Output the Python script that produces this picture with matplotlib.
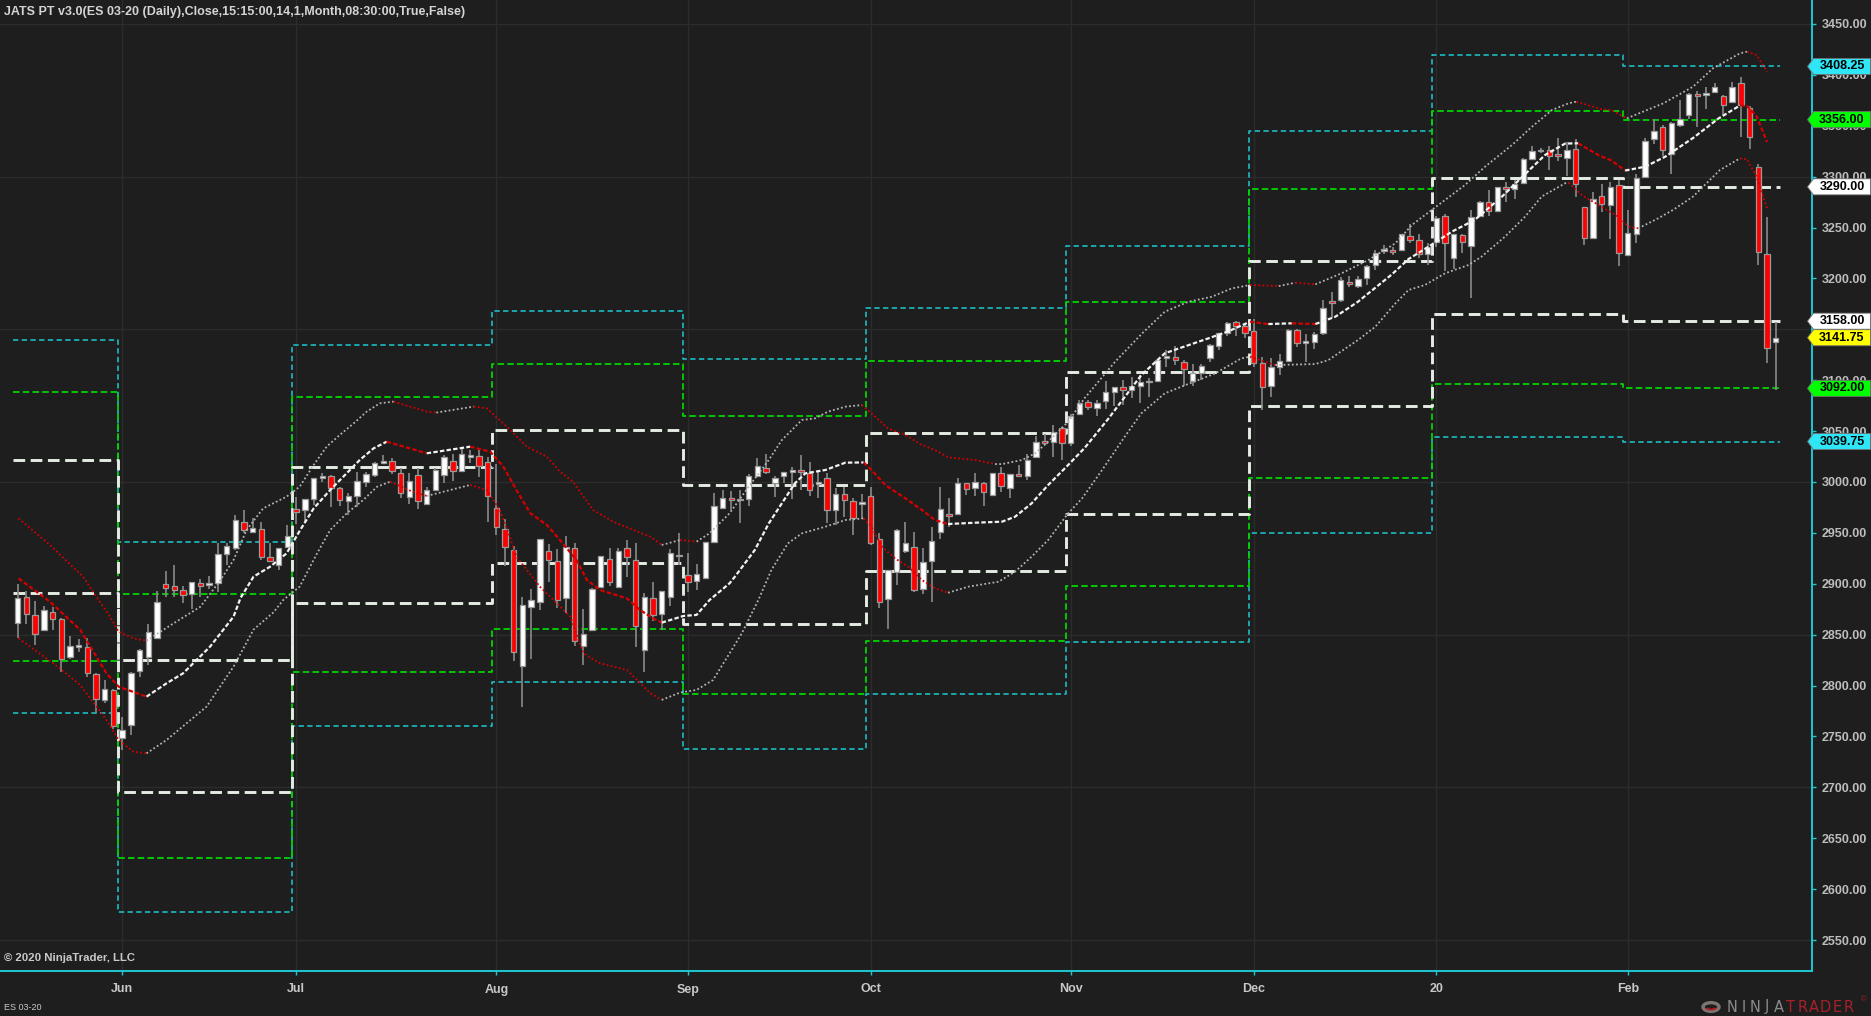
import matplotlib
matplotlib.use("Agg")
import matplotlib.pyplot as plt
from matplotlib.patches import Polygon, Circle, Wedge
from matplotlib.transforms import blended_transform_factory

W, H = 1871, 1016
BG = "#1e1e1e"
GRID = "#2c2c2c"
CYAN = "#1fc8d2"
TEXT = "#c8c8c8"
RED = "#ff0000"
BAND_RED = "#d40000"

plt.rcParams["font.family"] = ["Liberation Sans", "DejaVu Sans"]

# daily bars, ES 03-20 (mid May 2019 .. 26 Feb 2020)
opens = [2861, 2887, 2869, 2855, 2872, 2865, 2828, 2838, 2838, 2811, 2786, 2796,
         2748, 2761, 2814, 2828, 2847, 2900, 2898, 2894, 2890, 2901, 2899, 2901, 2929, 2935, 2961, 2951, 2954, 2926, 2918, 2936,
         2973, 2972, 2983, 3004, 3006, 2994, 2981, 2986, 3000, 3007, 3019, 3021, 3009, 2985, 3007, 2978, 2992, 3007, 3021, 3011, 3025, 3026, 3020,
         2974, 2954, 2933, 2819, 2877, 2882, 2932, 2922, 2886, 2935, 2839, 2855, 2897, 2924, 2897, 2935, 2923, 2835, 2886, 2870, 2887, 2927,
         2909, 2903, 2906, 2941, 2974, 2984, 2982, 2983, 3006, 3014, 2999, 3006, 3010, 3012, 3009, 2998, 3004, 2972, 2988, 2981, 2978,
         2986, 2944, 2885, 2912, 2932, 2936, 2895, 2922, 2951, 2969, 2969, 2999, 2994, 2999, 2987, 3009, 2994, 3008, 3006, 3025, 3040, 3039, 3053,
         3038, 3067, 3079, 3073, 3080, 3088, 3093, 3090, 3094, 3098, 3099, 3122, 3123, 3118, 3099, 3107, 3122, 3134, 3146, 3157, 3153,
         3148, 3117, 3094, 3113, 3119, 3149, 3137, 3138, 3146, 3177, 3179, 3196, 3193, 3200, 3213, 3227, 3228, 3228, 3242, 3238, 3224,
         3236, 3261, 3220, 3243, 3232, 3261, 3275, 3266, 3290, 3288, 3294, 3317, 3325, 3326, 3322, 3318, 3327, 3270, 3240, 3281, 3272, 3292,
         3223, 3244, 3300, 3337, 3349, 3322, 3351, 3361, 3381, 3380, 3383, 3379, 3373, 3392, 3367, 3309, 3224, 3138]
highs = [2900, 2893, 2883, 2878, 2877, 2866, 2849, 2846, 2847, 2812, 2805, 2797,
         2769, 2813, 2836, 2860, 2893, 2913, 2918, 2898, 2902, 2905, 2908, 2940, 2940, 2968, 2972, 2965, 2961, 2940, 2935, 2958,
         2985, 2983, 3004, 3009, 3007, 2995, 2989, 3010, 3010, 3020, 3027, 3024, 3014, 3009, 3014, 2995, 3014, 3027, 3028, 3032, 3031, 3032, 3025,
         3018, 2964, 2937, 2887, 2895, 2944, 2939, 2934, 2947, 2940, 2875, 2896, 2927, 2935, 2935, 2943, 2940, 2891, 2902, 2893, 2934, 2950,
         2930, 2919, 2941, 2989, 2992, 2991, 2992, 3008, 3024, 3028, 3006, 3010, 3015, 3027, 3020, 3010, 3009, 2994, 2995, 2984, 2988,
         2995, 2950, 2914, 2954, 2961, 2951, 2935, 2956, 2995, 2984, 3004, 2999, 3009, 3000, 3009, 3015, 3008, 3017, 3028, 3045, 3047, 3056, 3054,
         3067, 3081, 3081, 3081, 3099, 3093, 3100, 3103, 3105, 3102, 3121, 3130, 3134, 3120, 3116, 3116, 3136, 3146, 3157, 3158, 3155,
         3160, 3123, 3122, 3126, 3150, 3150, 3145, 3147, 3179, 3187, 3201, 3202, 3202, 3213, 3228, 3233, 3231, 3244, 3253, 3244, 3235,
         3261, 3263, 3244, 3244, 3267, 3276, 3287, 3290, 3295, 3297, 3318, 3330, 3328, 3330, 3338, 3334, 3337, 3270, 3285, 3293, 3295, 3297,
         3267, 3303, 3338, 3357, 3351, 3354, 3375, 3382, 3384, 3388, 3392, 3380, 3393, 3398, 3369, 3312, 3260, 3157]
lows = [2847, 2860, 2840, 2854, 2855, 2813, 2826, 2833, 2808, 2773, 2783, 2757,
        2737, 2751, 2808, 2820, 2846, 2887, 2887, 2881, 2875, 2887, 2895, 2892, 2918, 2933, 2950, 2951, 2923, 2921, 2914, 2935,
        2959, 2962, 2977, 3000, 2975, 2976, 2968, 2975, 2995, 3005, 3018, 3008, 2984, 2978, 2973, 2977, 2992, 2999, 3001, 3010, 3019, 3005, 2961,
        2948, 2917, 2824, 2779, 2826, 2874, 2902, 2876, 2871, 2839, 2820, 2854, 2896, 2898, 2896, 2907, 2838, 2813, 2863, 2855, 2878, 2918,
        2892, 2894, 2905, 2941, 2973, 2972, 2960, 2976, 3005, 3008, 2985, 2999, 2983, 2992, 2986, 2984, 2960, 2958, 2966, 2948, 2964,
        2938, 2876, 2856, 2899, 2930, 2892, 2890, 2882, 2944, 2956, 2968, 2987, 2986, 2976, 2986, 2990, 2984, 3006, 3002, 3024, 3036, 3025, 3022,
        3035, 3066, 3071, 3065, 3072, 3075, 3076, 3083, 3078, 3084, 3098, 3113, 3115, 3094, 3094, 3100, 3118, 3130, 3143, 3143, 3141,
        3113, 3071, 3084, 3105, 3119, 3133, 3118, 3131, 3144, 3161, 3177, 3192, 3191, 3194, 3208, 3224, 3223, 3227, 3235, 3220, 3213,
        3231, 3207, 3209, 3225, 3181, 3261, 3261, 3266, 3275, 3278, 3293, 3316, 3323, 3307, 3315, 3301, 3280, 3233, 3239, 3265, 3239, 3212,
        3222, 3235, 3300, 3332, 3320, 3303, 3349, 3357, 3349, 3366, 3382, 3361, 3372, 3339, 3327, 3213, 3117, 3090]
closes = [2886, 2870, 2851, 2874, 2865, 2826, 2839, 2839, 2812, 2787, 2797, 2760,
          2756, 2812, 2835, 2853, 2882, 2896, 2894, 2889, 2902, 2898, 2900, 2929, 2937, 2963, 2953, 2955, 2926, 2922, 2935, 2947,
          2971, 2983, 3004, 3005, 2994, 2982, 2986, 3001, 3008, 3019, 3021, 3011, 2989, 3001, 2981, 2992, 3012, 3025, 3011, 3028, 3026, 3016, 2986,
          2956, 2936, 2833, 2879, 2884, 2944, 2923, 2884, 2936, 2844, 2851, 2895, 2927, 2902, 2932, 2926, 2859, 2887, 2869, 2893, 2930, 2928,
          2902, 2910, 2941, 2976, 2984, 2982, 2983, 3006, 3016, 3010, 3004, 3010, 3011, 3010, 2992, 2999, 2972, 2988, 2982, 2965, 2980,
          2940, 2882, 2914, 2953, 2940, 2894, 2921, 2942, 2973, 2967, 2999, 2993, 3000, 2990, 3009, 2996, 3008, 3006, 3022, 3039, 3038, 3049, 3038,
          3065, 3078, 3074, 3078, 3088, 3093, 3090, 3094, 3098, 3099, 3120, 3124, 3120, 3111, 3107, 3114, 3135, 3146, 3156, 3153, 3146,
          3117, 3093, 3113, 3119, 3149, 3137, 3138, 3145, 3171, 3176, 3198, 3195, 3199, 3212, 3225, 3228, 3226, 3244, 3238, 3224, 3231,
          3259, 3235, 3244, 3236, 3260, 3275, 3266, 3290, 3288, 3293, 3317, 3325, 3326, 3320, 3320, 3326, 3293, 3240, 3278, 3273, 3290, 3225,
          3245, 3299, 3335, 3345, 3326, 3353, 3357, 3381, 3379, 3382, 3388, 3370, 3388, 3370, 3339, 3226, 3132, 3141.75]

# first bar of each month and the axis labels
month_first_bar = [12, 32, 55, 77, 98, 121, 142, 163, 185]
month_labels = ["Jun", "Jul", "Aug", "Sep", "Oct", "Nov", "Dec", "20", "Feb"]

# monthly JATS levels: May .. Feb
level_start = [-0.5, 11.5, 31.5, 54.5, 76.5, 97.5, 120.5, 141.5, 162.5, 184.5, 202.5]
cyan_hi = [3139.5, 2941.4, 3134.8, 3167.6, 3120.7, 3171.2, 3232.2, 3344.7, 3419.6, 3408.25]
green_hi = [3088.0, 2889.9, 3083.2, 3116.0, 3065.2, 3118.4, 3177.1, 3287.5, 3364.8, 3356.00]
white_hi = [3021.6, 2825.1, 3015.0, 3051.1, 2997.1, 3048.4, 3108.4, 3217.4, 3298.4, 3290.00]
white_lo = [2890.6, 2695.2, 2880.8, 2920.8, 2860.5, 2912.2, 2968.2, 3075.0, 3164.7, 3158.00]
green_lo = [2824.4, 2630.8, 2813.6, 2855.3, 2791.7, 2844.1, 2897.8, 3004.2, 3096.3, 3092.00]
cyan_lo = [2772.7, 2578.0, 2760.3, 2803.9, 2737.5, 2791.4, 2843.1, 2949.6, 3044.6, 3039.75]

# envelope lines (bar index, price)
upper_x = [0.1, 3.7, 7.5, 10.6, 11.6, 13.3, 14.8, 17.9, 21.0, 23.3, 24.8, 26.3, 28.2, 30.9, 32.4,
           34.0, 35.5, 37.0, 38.6, 40.1, 41.6, 43.2, 47.0, 48.1, 52.4, 53.9, 56.6, 58.5, 60.8, 62.3,
           63.8, 66.1, 68.4, 70.7, 72.7, 74.0,
           76.1, 78.0, 79.5, 81.8, 84.0, 86.3, 87.8, 90.1, 91.6, 93.1, 95.1, 97.0, 98.1, 100.0, 102.0,
           103.9, 105.4, 106.9, 110.0, 112.3, 113.1, 115.4, 116.9, 118.4, 120.7, 122.6, 126.1, 129.2,
           131.8, 134.5, 137.2, 139.5, 141.6, 144.9, 146.8, 149.1, 152.1, 155.2, 158.3, 160.2, 161.7,
           166.3, 168.6, 171.7, 174.0, 176.3, 178.2, 179.1, 182.0, 183.1, 184.9, 189.1, 192.5, 194.8,
           197.9, 198.7, 199.8, 201.0]
upper_y = [2964.3, 2938.1, 2907.0, 2867.7, 2852.9, 2846.4, 2844.1, 2861.1, 2877.5, 2903.7, 2923.4, 2952.8, 2974.1, 2985.6, 2995.4,
           3016.7, 3034.7, 3046.2, 3057.6, 3069.1, 3077.3, 3079.0, 3069.1, 3068.2, 3074.1, 3072.4, 3051.1, 3034.7, 3024.9, 3010.2,
           3000.4, 2972.5, 2961.1, 2952.9, 2946.3, 2938.1,
           2943.0, 2941.4, 2949.6, 2969.3, 2995.4, 3021.6, 3041.2, 3060.9, 3062.5, 3069.1, 3074.0, 3075.6, 3067.4, 3052.7, 3046.1,
           3036.3, 3031.4, 3024.2, 3021.6, 3017.6, 3017.6, 3021.6, 3028.1, 3039.6, 3059.2, 3082.5, 3118.2, 3146.0,
           3167.3, 3177.1, 3182.0, 3190.2, 3193.5, 3192.5, 3195.8, 3194.2, 3205.0, 3218.1, 3234.5, 3252.5, 3262.3,
           3291.8, 3309.8, 3331.1, 3349.1, 3365.5, 3372.1, 3373.7, 3366.2, 3365.5, 3357.3, 3372.1, 3388.4, 3406.5,
           3421.2, 3422.8, 3419.6, 3403.2]
mid_x = [0.1, 3.7, 7.2, 10.2, 11.6, 14.8, 17.1, 19.0, 22.1, 24.8, 25.6, 27.1, 29.0, 30.9, 32.4,
         34.0, 35.9, 39.3, 40.9, 42.4, 47.0, 52.0, 54.3, 55.8, 57.3, 58.9, 60.8, 62.3, 64.2, 65.4,
         66.9, 70.0, 71.5, 73.0, 74.0,
         76.5, 78.0, 79.5, 81.8, 82.4, 84.7, 86.3, 87.8, 89.3, 90.5, 92.8, 95.1, 97.2, 98.1, 99.7, 102.0,
         103.9, 105.4, 106.9, 110.0, 113.1, 114.6, 116.5, 118.4, 120.7, 122.6, 125.3, 129.1, 131.8,
         133.0, 136.8, 139.1, 141.6, 143.7, 146.4, 149.1, 151.4, 154.0, 157.9, 159.8, 161.7, 164.8,
         167.4, 170.5, 173.2, 175.5, 177.8, 179.3, 181.6, 183.1, 184.7, 187.0, 189.3, 192.5, 195.4,
         197.9, 198.7, 199.8, 201.0]
mid_y = [2905.3, 2882.4, 2854.6, 2812.0, 2798.9, 2789.1, 2802.2, 2812.0, 2838.2, 2867.7, 2886.0, 2907.0, 2916.8, 2929.9, 2952.0,
         2974.0, 2992.1, 3021.6, 3033.1, 3039.6, 3028.2, 3034.7, 3029.8, 3015.1, 2992.2, 2969.3, 2957.8, 2943.1, 2923.4, 2903.8,
         2893.9, 2885.7, 2874.3, 2866.1, 2861.8,
         2868.4, 2869.4, 2884.1, 2900.5, 2906.9, 2933.2, 2959.3, 2979.0, 2998.7, 3008.5, 3011.8, 3019.0, 3019.2, 3011.8, 2997.0, 2983.9,
         2972.5, 2962.6, 2958.7, 2960.0, 2961.0, 2965.9, 2979.0, 2997.0, 3016.7, 3033.5, 3062.0, 3105.0, 3126.4,
         3130.0, 3141.1, 3148.0, 3157.5, 3155.2, 3155.9, 3155.2, 3162.4, 3177.1, 3204.0, 3219.0, 3229.0, 3246.0,
         3257.4, 3280.0, 3302.5, 3321.3, 3332.5, 3332.8, 3321.3, 3316.0, 3306.0, 3309.8, 3319.6, 3338.0, 3357.0,
         3370.0, 3369.5, 3359.5, 3334.0]
lower_x = [0.1, 4.1, 7.2, 10.2, 11.6, 13.3, 14.8, 17.1, 21.7, 24.8, 27.1, 29.4, 30.5, 32.4, 34.4,
           35.9, 37.8, 39.7, 41.3, 42.8, 45.1, 47.0, 52.0, 53.9, 55.4, 56.4, 57.3, 60.0, 63.5, 65.0,
           66.9, 70.0, 72.7, 74.0,
           76.1, 78.0, 79.9, 81.8, 83.2, 85.1, 86.6, 88.5, 90.1, 92.8, 95.1, 97.2, 98.1, 99.3, 100.8,
           102.3, 103.9, 105.4, 106.9, 109.2, 112.7, 114.6, 116.5, 118.4, 120.7, 122.3, 124.6, 127.2,
           129.1, 131.8, 133.7, 137.6, 140.6, 141.6, 144.5, 149.1, 150.6, 154.0, 156.0, 158.3, 159.8,
           161.7, 164.0, 166.7, 168.2, 170.9, 173.2, 175.1, 177.8, 178.2, 179.7, 183.9, 185.1, 186.2,
           188.5, 190.2, 192.5, 195.6, 197.9, 198.7, 199.8, 201.0]
lower_y = [2846.4, 2821.8, 2800.5, 2766.2, 2746.5, 2735.0, 2733.4, 2746.5, 2779.3, 2818.6, 2855.0, 2872.0, 2884.0, 2897.2, 2929.9,
           2952.8, 2969.2, 2982.3, 2995.4, 3000.3, 2991.5, 2986.3, 2997.1, 2992.2, 2972.5, 2949.6, 2926.7, 2897.2, 2867.7, 2831.7,
           2821.9, 2815.3, 2792.4, 2785.9,
           2793.1, 2795.7, 2805.5, 2831.7, 2851.3, 2884.0, 2913.5, 2939.7, 2949.5, 2956.1, 2962.6, 2964.3, 2956.1, 2936.4, 2925.0,
           2916.8, 2903.7, 2895.5, 2891.2, 2897.1, 2902.0, 2911.9, 2926.6, 2943.0, 2969.2, 2983.9, 3011.8, 3044.5,
           3067.4, 3087.1, 3093.6, 3106.7, 3121.5, 3123.1, 3114.9, 3115.9, 3119.8, 3139.5, 3152.6, 3175.5, 3188.6,
           3193.6, 3205.0, 3213.2, 3221.4, 3241.1, 3260.7, 3280.4, 3293.5, 3294.1, 3282.0, 3260.7, 3250.9, 3249.2,
           3259.1, 3267.3, 3280.4, 3306.6, 3318.0, 3317.1, 3300.0, 3268.9]

# right-hand price markers
marker_values = [3408.25, 3356.00, 3290.00, 3158.00, 3141.75, 3092.00, 3039.75]
marker_colors = ["#2ee6f6", "#00ff00", "#ffffff", "#ffffff", "#ffff00", "#00ff00", "#2ee6f6"]


def y_of(px):
    # chart pixel row -> price
    return 3000 - (px - 482) / 1.0178


def x_of(px):
    # chart pixel column -> bar index
    return (px - 17.7) / 8.703


def draw_candles(ax):
    for i, (o, h, l, c) in enumerate(zip(opens, highs, lows, closes)):
        ax.plot([i, i], [l, h], color="#8a8a8a", lw=1.2, zorder=4, solid_capstyle="butt")
        bottom = min(o, c)
        height = max(abs(c - o), 1.6)
        face = "#ffffff" if c >= o else RED
        ax.bar(i, height, bottom=bottom, width=0.62, color=face, edgecolor="#9a9a9a",
               linewidth=0.9, zorder=5)


def draw_levels(ax):
    specs = [
        (cyan_hi, CYAN, 1.1, (3.5, 2.2)),
        (cyan_lo, CYAN, 1.1, (3.5, 2.2)),
        (green_hi, "#00d400", 1.3, (3.6, 1.8)),
        (green_lo, "#00d400", 1.3, (3.6, 1.8)),
        (white_hi, "#e4ece4", 2.1, (4.0, 1.9)),
        (white_lo, "#e4ece4", 2.1, (4.0, 1.9)),
    ]
    for vals, color, lw, dashes in specs:
        ys = list(vals) + [vals[-1]]
        ax.plot(level_start, ys, drawstyle="steps-post", color=color, lw=lw,
                dashes=dashes, zorder=3)


def draw_band(ax, xs, ys, base_color, lw, dashes):
    start = 0
    colors = [BAND_RED if ys[k + 1] < ys[k] else base_color for k in range(len(xs) - 1)]
    for k in range(1, len(colors) + 1):
        if k == len(colors) or colors[k] != colors[start]:
            ax.plot(xs[start:k + 1], ys[start:k + 1], color=colors[start], lw=lw,
                    dashes=dashes, zorder=6)
            start = k


def main():
    fig = plt.figure(figsize=(W / 100, H / 100), dpi=100, facecolor=BG)
    ax = fig.add_axes([0, 45 / H, 1812 / W, 971 / H])
    ax.set_facecolor(BG)
    ax.set_xlim(x_of(0), x_of(1812))
    ax.set_ylim(y_of(971), y_of(0))

    for p in range(2550, 3451, 150):
        ax.axhline(p, color=GRID, lw=1, zorder=0)
    for i in month_first_bar:
        ax.axvline(i, color=GRID, lw=1, zorder=0)

    draw_levels(ax)
    draw_band(ax, upper_x, upper_y, "#b4b4b4", 1.3, (1.0, 1.3))
    draw_band(ax, lower_x, lower_y, "#b4b4b4", 1.3, (1.0, 1.3))
    draw_band(ax, mid_x, mid_y, "#f2f2f2", 1.6, (2.0, 1.0))
    draw_candles(ax)

    for s in ("top", "left"):
        ax.spines[s].set_visible(False)
    for s in ("right", "bottom"):
        ax.spines[s].set_color(CYAN)
        ax.spines[s].set_linewidth(1.4)

    ax.yaxis.tick_right()
    ax.set_yticks(range(2550, 3451, 50))
    ax.set_yticklabels([f"{p:.2f}" for p in range(2550, 3451, 50)])
    ax.tick_params(axis="y", length=3, width=1, color=CYAN, labelcolor="#bdbdbd",
                   labelsize=9, pad=4)
    ax.set_xticks(month_first_bar)
    ax.set_xticklabels(month_labels)
    ax.tick_params(axis="x", length=3, width=1, color=CYAN, labelcolor=TEXT,
                   labelsize=9, pad=6)
    for lbl in ax.get_yticklabels() + ax.get_xticklabels():
        lbl.set_fontweight("bold")

    # price markers on the right scale
    tr = blended_transform_factory(fig.transFigure, ax.transData)
    hh = 7.9
    for val, col in zip(marker_values, marker_colors):
        pts = [(1807.5 / W, val), (1813.5 / W, val + hh), (1870.5 / W, val + hh),
               (1870.5 / W, val - hh), (1813.5 / W, val - hh)]
        ax.add_patch(Polygon(pts, closed=True, transform=tr, facecolor=col,
                             edgecolor="#707070", lw=0.6, clip_on=False, zorder=30))
        ax.text(1842 / W, val, f"{val:.2f}", transform=tr, ha="center", va="center",
                fontsize=9, fontweight="bold", color="black", clip_on=False, zorder=31)

    fig.text(4 / W, 1 - 12 / H,
             "JATS PT v3.0(ES 03-20 (Daily),Close,15:15:00,14,1,Month,08:30:00,True,False)",
             color="#d4d4d4", fontsize=9, fontweight="bold", va="center", ha="left")
    fig.text(4 / W, 1 - 958 / H, "\u00a9 2020 NinjaTrader, LLC", color=TEXT,
             fontsize=8.2, fontweight="bold", va="center", ha="left")
    fig.text(4 / W, 1 - 1007 / H, "ES 03-20", color=TEXT, fontsize=6.5,
             va="center", ha="left")

    # NinjaTrader logo
    logo_y = 1 - 1007 / H
    fig.patches.append(Circle((1711 / W, logo_y), 8 / W, transform=fig.transFigure,
                              facecolor="none", edgecolor="#7c7670", lw=2.4))
    fig.patches.append(Wedge((1711 / W, logo_y), 6.5 / W, 200, 340, width=3.5 / W,
                             transform=fig.transFigure, facecolor="#b0202a"))
    for k, ch in enumerate("NINJATRADER"):
        fig.text((1732 + k * 11.7) / W, logo_y, ch, ha="center", va="center",
                 fontsize=10.5, family="DejaVu Sans",
                 color="#8a8a8a" if k < 5 else "#a8202a")
    fig.text(1864 / W, 1 - 1000 / H, "\u00a9", fontsize=5.5, color="#a8202a",
             ha="center", va="center")

    fig.savefig("out.png", dpi=100, facecolor=BG)
    plt.close(fig)


if __name__ == "__main__":
    main()
